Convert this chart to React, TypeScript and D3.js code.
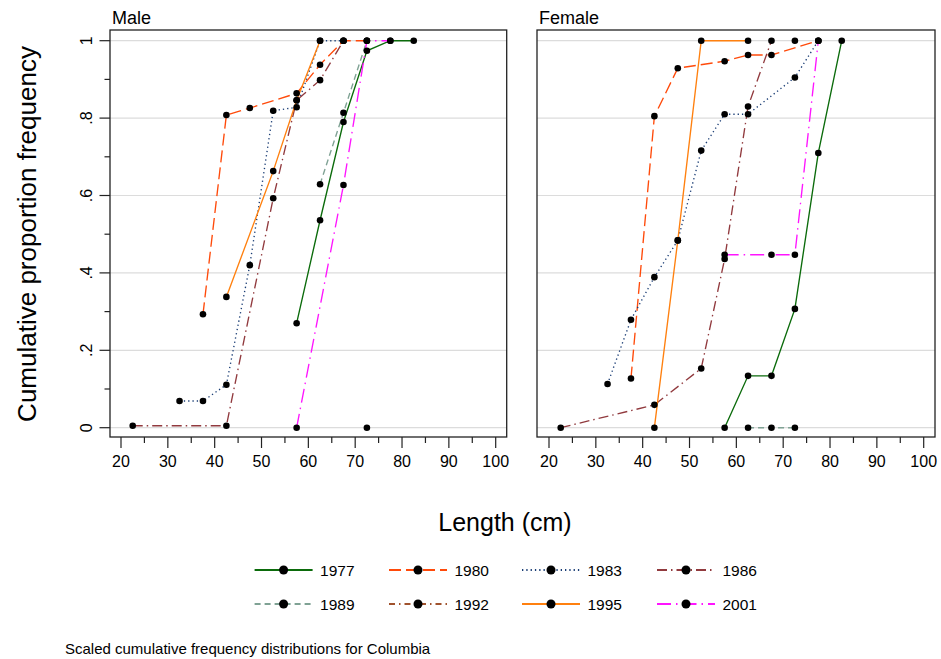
import React from 'react';
import * as d3 from 'd3';

// ---- data (length bin midpoint, cumulative proportion) ----
const years = ['1977', '1980', '1983', '1986', '1989', '1992', '1995', '2001'];

const male1977 = [[57.5, 0.27], [62.5, 0.536], [67.5, 0.79], [72.5, 0.974], [77.5, 1], [82.5, 1]];
const male1980 = [[37.5, 0.293], [42.5, 0.808], [47.5, 0.826], [57.5, 0.864], [62.5, 0.938], [67.5, 1], [72.5, 1]];
const male1983 = [[32.5, 0.069], [37.5, 0.069], [42.5, 0.111], [47.5, 0.42], [52.5, 0.819], [57.5, 0.828], [62.5, 1], [67.5, 1]];
const male1986 = [[22.5, 0.005], [42.5, 0.005], [52.5, 0.593], [57.5, 0.846], [62.5, 0.898], [67.5, 1]];
const male1989 = [[62.5, 0.629], [67.5, 0.814], [72.5, 1]];
const male1992 = [[72.5, 0]];
const male1995 = [[42.5, 0.338], [52.5, 0.663], [57.5, 0.846], [62.5, 1]];
const male2001 = [[57.5, 0], [67.5, 0.627], [72.5, 1], [77.5, 1]];

const female1977 = [[57.5, 0], [62.5, 0.134], [67.5, 0.134], [72.5, 0.307], [77.5, 0.71], [82.5, 1]];
const female1980 = [[37.5, 0.127], [42.5, 0.805], [47.5, 0.929], [57.5, 0.947], [62.5, 0.963], [67.5, 0.963], [77.5, 1]];
const female1983 = [[32.5, 0.113], [37.5, 0.279], [42.5, 0.389], [47.5, 0.484], [52.5, 0.716], [57.5, 0.81], [62.5, 0.81], [72.5, 0.905], [77.5, 1]];
const female1986 = [[22.5, 0], [42.5, 0.059], [52.5, 0.153], [57.5, 0.436], [62.5, 0.83], [67.5, 1]];
const female1989 = [[62.5, 0], [67.5, 0], [72.5, 0]];
const female1992 = [[72.5, 1]];
const female1995 = [[42.5, 0], [47.5, 0.484], [52.5, 1], [62.5, 1]];
const female2001 = [[57.5, 0.447], [67.5, 0.447], [72.5, 0.447], [77.5, 1]];

const maleSeries = [male1977, male1980, male1983, male1986, male1989, male1992, male1995, male2001];
const femaleSeries = [female1977, female1980, female1983, female1986, female1989, female1992, female1995, female2001];

const xMajorTicks = [20, 30, 40, 50, 60, 70, 80, 90, 100];
const xMinorTicks = [25, 35, 45, 55, 65, 75, 85, 95];
const yMajorTicks = [0, 0.2, 0.4, 0.6, 0.8, 1];
const yMinorTicks = [0.1, 0.3, 0.5, 0.7, 0.9];

// ---- styles ----
const colors = ['#0b6b0b', '#ff4a0a', '#1a3d75', '#913a3e', '#7fa294', '#a0522d', '#ff800f', '#ff14ff'];
const dashes = ['none', '12,5', '1.3,3', '10,4,1.5,4', '6,4', '6,4,1.5,4', 'none', '14,5,1.5,5'];

const FONT = 'Liberation Sans, Arial, sans-serif';

const yScale = d3.scaleLinear().domain([0, 1]).range([427.7, 40.7]);
const PANEL_TOP = 30;
const PANEL_BOTTOM = 437;

function fmtY(v: number) {
  if (v === 0) return '0';
  if (v === 1) return '1';
  return d3.format('.1f')(v).replace(/^0/, '');
}

function Panel({ title, series, x, left, right, showY }: any) {
  const line = d3.line<number[]>().x((d) => x(d[0])).y((d) => yScale(d[1]));
  return (
    <g>
      <text x={left + 2} y={24} fontSize={18} fontFamily={FONT}>{title}</text>
      {yMajorTicks.map((t) => (
        <line key={'g' + t} x1={left} x2={right} y1={yScale(t)} y2={yScale(t)} stroke="#dcdcdc" strokeWidth={1.2} />
      ))}
      {series.map((s: number[][], i: number) => (
        <path key={'l' + i} d={line(s) || ''} fill="none" stroke={colors[i]} strokeWidth={1.35}
          strokeDasharray={dashes[i]} />
      ))}
      {series.map((s: number[][], i: number) =>
        s.map((d, j) => <circle key={'c' + i + '-' + j} cx={x(d[0])} cy={yScale(d[1])} r={3.3} fill="#000" />)
      )}
      <rect x={left} y={PANEL_TOP} width={right - left} height={PANEL_BOTTOM - PANEL_TOP} fill="none" stroke="#222" strokeWidth={1.3} />
      {xMajorTicks.map((t) => (
        <g key={'xt' + t}>
          <line x1={x(t)} x2={x(t)} y1={PANEL_BOTTOM} y2={PANEL_BOTTOM + 11} stroke="#222" strokeWidth={1.2} />
          <text x={x(t)} y={467} fontSize={16} fontFamily={FONT} textAnchor="middle">{t}</text>
        </g>
      ))}
      {xMinorTicks.map((t) => (
        <line key={'xm' + t} x1={x(t)} x2={x(t)} y1={PANEL_BOTTOM} y2={PANEL_BOTTOM + 6} stroke="#222" strokeWidth={1.2} />
      ))}
      {showY && yMajorTicks.map((t) => (
        <g key={'yt' + t}>
          <line x1={left - 10.5} x2={left} y1={yScale(t)} y2={yScale(t)} stroke="#222" strokeWidth={1.2} />
          <text transform={`translate(${left - 18},${yScale(t)}) rotate(-90)`} fontSize={16} fontFamily={FONT} textAnchor="middle">{fmtY(t)}</text>
        </g>
      ))}
      {showY && yMinorTicks.map((t) => (
        <line key={'ym' + t} x1={left - 5.5} x2={left} y1={yScale(t)} y2={yScale(t)} stroke="#222" strokeWidth={1.2} />
      ))}
    </g>
  );
}

export default function App() {
  const xMale = d3.scaleLinear().domain([20, 100]).range([121, 495.7]);
  const xFemale = d3.scaleLinear().domain([20, 100]).range([549, 923.7]);
  const legendDotX = [283.6, 418, 551, 686];
  const legendRowY = [570, 604];
  return (
    <svg width={941} height={659} style={{ position: 'absolute', left: 0, top: 0, background: '#fff' }}>
      <rect x={0} y={0} width={941} height={659} fill="#fff" />
      <Panel title="Male" series={maleSeries} x={xMale} left={110} right={506.7} showY={true} />
      <Panel title="Female" series={femaleSeries} x={xFemale} left={537} right={935} showY={false} />
      <text transform="translate(36,234) rotate(-90)" fontSize={26} fontFamily={FONT} textAnchor="middle">Cumulative proportion frequency</text>
      <text x={505} y={531} fontSize={25} fontFamily={FONT} textAnchor="middle">Length (cm)</text>
      {years.map((yr, i) => {
        const cx = legendDotX[i % 4];
        const cy = legendRowY[Math.floor(i / 4)];
        return (
          <g key={'lg' + yr}>
            <line x1={cx - 29} x2={cx + 29} y1={cy} y2={cy} stroke={colors[i]} strokeWidth={2.2} strokeDasharray={dashes[i]} />
            <circle cx={cx} cy={cy} r={4.5} fill="#000" />
            <text x={cx + 36.5} y={cy + 5.5} fontSize={15.5} fontFamily={FONT}>{yr}</text>
          </g>
        );
      })}
      <text x={65} y={654} fontSize={15} fontFamily={FONT}>Scaled cumulative frequency distributions for Columbia</text>
    </svg>
  );
}
